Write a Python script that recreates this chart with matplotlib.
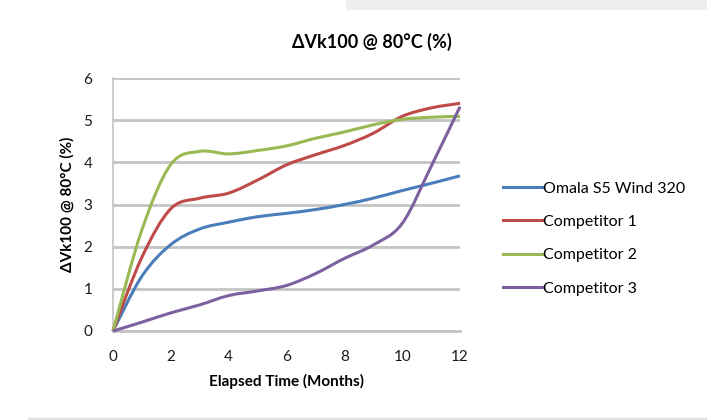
import numpy as np
import matplotlib
matplotlib.use('Agg')
import matplotlib.pyplot as plt
from matplotlib.path import Path
from matplotlib.patches import PathPatch, Rectangle
from matplotlib.lines import Line2D

# Datos: variación de viscosidad a 80°C por mes
meses = [0, 1, 2, 3, 4, 5, 6, 7, 8, 9, 10, 11, 12]
omala = [0, 1.30, 2.05, 2.42, 2.58, 2.71, 2.79, 2.88, 3.00, 3.15, 3.33, 3.50, 3.68]
comp1 = [0, 1.75, 2.90, 3.15, 3.27, 3.58, 3.94, 4.18, 4.40, 4.69, 5.09, 5.29, 5.40]
comp2 = [0, 2.40, 3.95, 4.26, 4.20, 4.28, 4.39, 4.57, 4.72, 4.89, 5.02, 5.07, 5.09]
comp3 = [0, 0.21, 0.43, 0.62, 0.84, 0.95, 1.08, 1.36, 1.72, 2.04, 2.55, 3.90, 5.32]

nombres = ["Omala S5 Wind 320", "Competitor 1", "Competitor 2", "Competitor 3"]
colores = ["#4a7ebb", "#be4b48", "#98b954", "#7d60a0"]

titulo = "ΔVk100 @ 80°C (%)"
eje_x = "Elapsed Time (Months)"
eje_y = "ΔVk100 @ 80°C (%)"

plt.rcParams['font.family'] = ['Lato', 'DejaVu Sans']


def curva_suave(x, y):
    # Curva bezier tipo "línea suavizada" de Excel
    p = np.column_stack([x, y]).astype(float)
    n = len(p)
    verts = [p[0]]
    codes = [Path.MOVETO]
    for i in range(n - 1):
        a = p[i - 1] if i > 0 else p[i]
        b = p[i + 2] if i + 2 < n else p[i + 1]
        c1 = p[i] + (p[i + 1] - a) / 6.0
        c2 = p[i + 1] - (b - p[i]) / 6.0
        verts += [c1, c2, p[i + 1]]
        codes += [Path.CURVE4] * 3
    return Path(verts, codes)


fig = plt.figure(figsize=(7.07, 4.2), dpi=100)
fig.patch.set_facecolor('white')

# franja gris superior y sombra inferior de la tarjeta
fig.patches.append(Rectangle((346 / 707, 1 - 9 / 420), 1, 9 / 420,
                             transform=fig.transFigure, color='#eef0ef', zorder=0))
fig.patches.append(Rectangle((0.04, 0), 1, 2 / 420,
                             transform=fig.transFigure, color='#e2e2e2', zorder=0))

ax = fig.add_axes([113 / 707, 1 - 331 / 420, (460 - 113) / 707, (331 - 78) / 420])
ax.set_xlim(0, 12)
ax.set_ylim(0, 6)
ax.set_xticks(range(0, 13, 2))
ax.set_yticks(range(0, 7))
ax.grid(axis='y', color='#c4c4c4', linewidth=2.0)
ax.set_axisbelow(True)
for s in ['top', 'right']:
    ax.spines[s].set_visible(False)
ax.spines['left'].set_color('#c4c4c4')
ax.spines['left'].set_linewidth(1.2)
ax.spines['bottom'].set_color('#c4c4c4')
ax.spines['bottom'].set_linewidth(2.0)
ax.tick_params(length=0, labelsize=11, colors='#1a1a1a')
ax.tick_params(axis='x', pad=14)
ax.tick_params(axis='y', pad=15)

series = [omala, comp1, comp2, comp3]
handles = []
for datos, color, nombre in zip(series, colores, nombres):
    ax.add_patch(PathPatch(curva_suave(meses, datos), fill=False,
                           edgecolor=color, linewidth=2.2, zorder=3,
                           clip_on=False))
    handles.append(Line2D([], [], color=color, linewidth=2.2, label=nombre))

ax.set_xlabel(eje_x, fontsize=11, fontweight='bold', labelpad=7)
ax.set_ylabel(eje_y, fontsize=11, fontweight='bold', labelpad=6)
fig.text(372 / 707, 1 - 42 / 420, titulo, ha='center', va='center',
         fontsize=13, fontweight='bold')

fig.legend(handles=handles, loc='upper left',
           bbox_to_anchor=(489 / 707, 1 - 167 / 420), frameon=False,
           fontsize=11.5, handlelength=2.4, handletextpad=0.1,
           labelspacing=1.2)

fig.savefig('out.png', dpi=100)
